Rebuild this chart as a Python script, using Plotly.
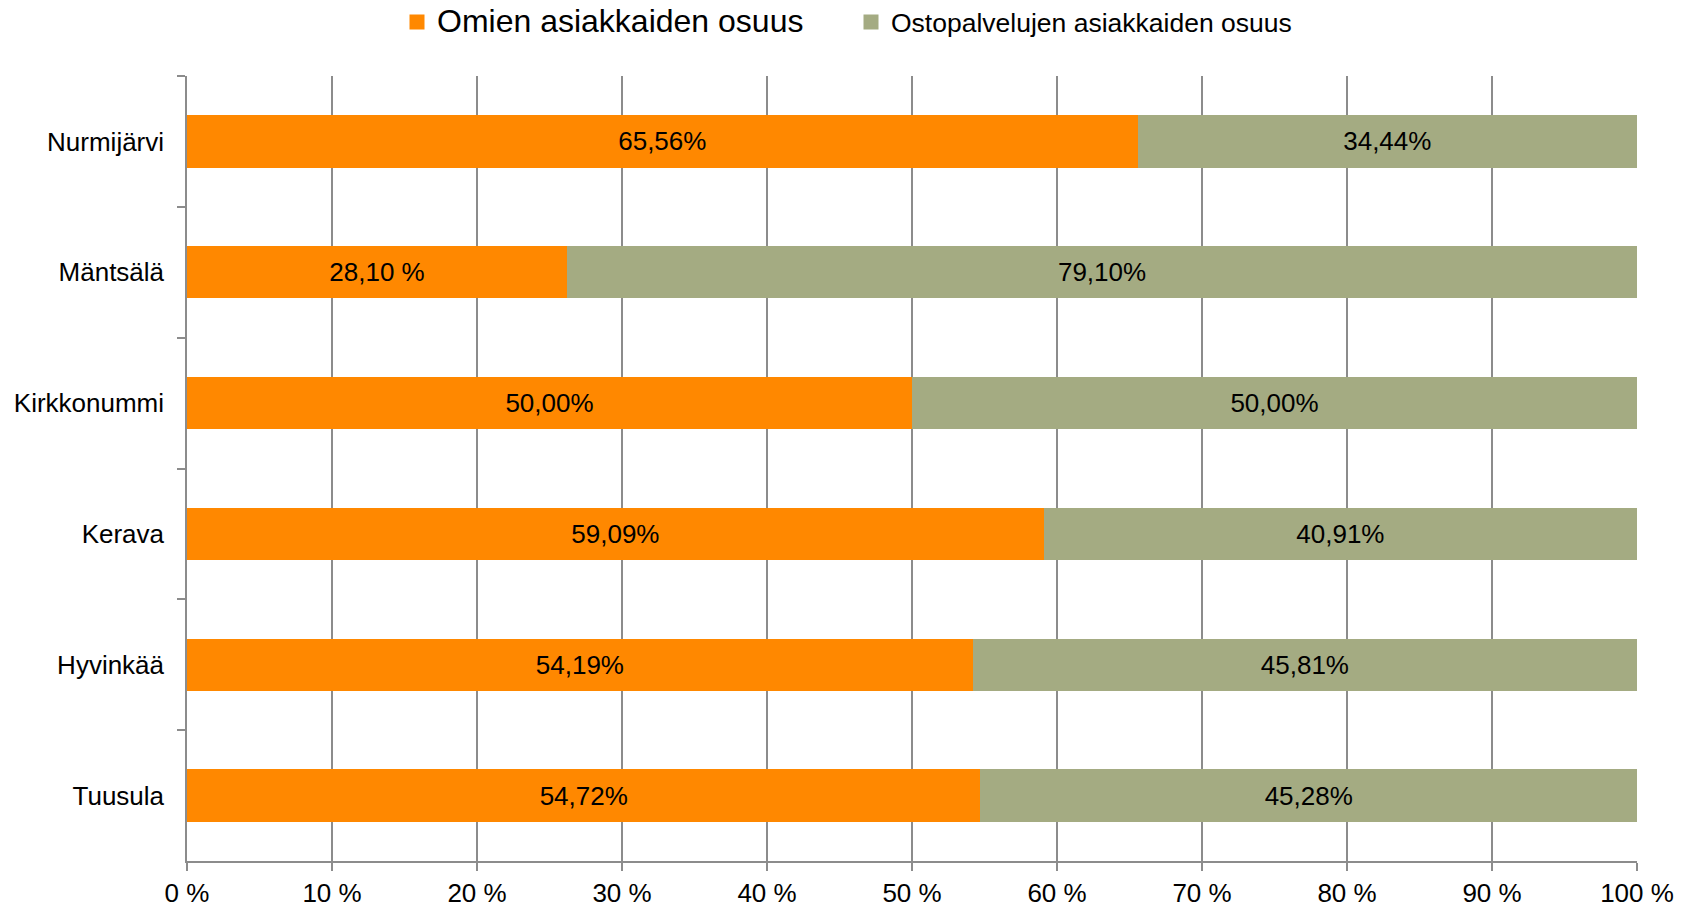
import plotly.graph_objects as go

# Municipalities, top to bottom
kunnat = ["Nurmijärvi", "Mäntsälä", "Kirkkonummi", "Kerava", "Hyvinkää", "Tuusula"]

# Share of own clients and of purchased-service clients (%)
omat = [65.56, 28.10, 50.00, 59.09, 54.19, 54.72]
osto = [34.44, 79.10, 50.00, 40.91, 45.81, 45.28]

# Separator printed between the number and the percent sign
omat_sep = ["", " ", "", "", "", ""]
osto_sep = ["", "", "", "", "", ""]

# Series names and the legend font size of each
sarjat = ["Omien asiakkaiden osuus", "Ostopalvelujen asiakkaiden osuus"]
sarja_koko = [32, 26.5]

x_ticks = [0, 10, 20, 30, 40, 50, 60, 70, 80, 90, 100]

FONT = "Liberation Sans, Arial, sans-serif"
ORANGE = "#FF8800"
GREEN = "#A4AB82"
GRID = "#8C8C8C"
COLORS = [ORANGE, GREEN]


def fi_label(v, sep):
    return f"{v:.2f}".replace(".", ",") + sep + "%"


fig = go.Figure()
for vals, seps, color in ((omat, omat_sep, ORANGE), (osto, osto_sep, GREEN)):
    fig.add_trace(go.Bar(
        y=kunnat, x=vals, orientation="h",
        marker=dict(color=color, line=dict(width=0)),
        text=[fi_label(v, s) for v, s in zip(vals, seps)],
        textposition="inside", insidetextanchor="middle",
        textfont=dict(family=FONT, size=26, color="black"),
        hoverinfo="skip", showlegend=False,
    ))

# Legend entries with larger square swatches
for name, size, color in zip(sarjat, sarja_koko, COLORS):
    fig.add_trace(go.Scatter(
        x=[None], y=[None], mode="markers",
        name=f"<span style='font-size:{size}px'>{name}</span>",
        marker=dict(symbol="square", size=15, color=color),
        showlegend=True, hoverinfo="skip",
    ))

fig.update_layout(
    width=1694, height=907,
    barmode="stack", barnorm="percent", bargap=0.6,
    plot_bgcolor="white", paper_bgcolor="white",
    font=dict(family=FONT, color="black"),
    margin=dict(l=187, r=57, t=76, b=46, autoexpand=False),
    legend=dict(
        orientation="h",
        xref="container", yref="container",
        x=397 / 1694, xanchor="left",
        y=1 - 22 / 907, yanchor="middle",
        font=dict(family=FONT, size=26, color="black"),
        entrywidth=409, entrywidthmode="pixels",
        traceorder="normal",
        bgcolor="rgba(0,0,0,0)",
    ),
    xaxis=dict(
        range=[0, 100],
        tickmode="array", tickvals=x_ticks,
        ticktext=[f"{v} %" for v in x_ticks],
        showgrid=True, gridcolor=GRID, gridwidth=1.5,
        showline=True, linecolor=GRID, linewidth=1.5,
        ticks="outside", ticklen=8, tickcolor=GRID, tickwidth=1.5,
        tickfont=dict(family=FONT, size=26, color="black"),
        ticklabelstandoff=0,
        zeroline=False, fixedrange=True,
    ),
    yaxis=dict(
        categoryorder="array", categoryarray=kunnat, autorange="reversed",
        showline=True, linecolor=GRID, linewidth=1.5,
        ticks="outside", ticklen=8, tickcolor=GRID, tickwidth=1.5,
        tickson="boundaries",
        showgrid=False,
        tickfont=dict(family=FONT, size=26, color="black"),
        ticklabelstandoff=16,
        fixedrange=True,
    ),
)

fig.write_html("out.html")
